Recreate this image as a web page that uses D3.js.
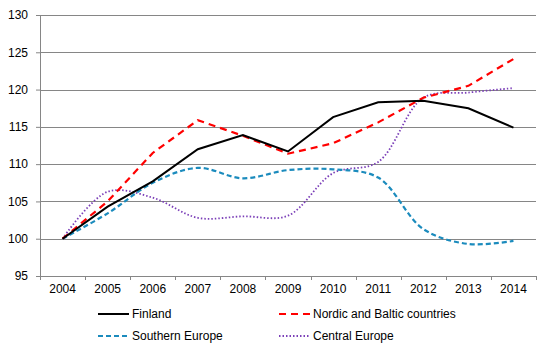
<!DOCTYPE html>
<html>
<head>
<meta charset="utf-8">
<script src="https://cdn.jsdelivr.net/npm/d3@7"></script>
<style>
  body { margin: 0; background: #fff; }
  text { font-family: "Liberation Sans", Arial, sans-serif; font-size: 12px; fill: #000; }
</style>
</head>
<body>
<script>
// data
const years = ["2004","2005","2006","2007","2008","2009","2010","2011","2012","2013","2014"];
const finland  = [100, 104.3, 107.7, 112.0, 113.9, 111.7, 116.3, 118.3, 118.5, 117.5, 114.9];
const nordic   = [100, 105.0, 111.5, 115.9, 113.8, 111.4, 112.8, 115.6, 118.9, 120.5, 124.1];
const southern = [100, 103.4, 107.5, 109.5, 108.1, 109.2, 109.3, 108.2, 101.3, 99.3, 99.7];
const central  = [100, 106.3, 105.5, 102.8, 103.0, 103.1, 108.8, 110.3, 118.9, 119.6, 120.2];
const yTicks = [95, 100, 105, 110, 115, 120, 125, 130];

const width = 550, height = 352;
const margin = { top: 15, right: 14, bottom: 76, left: 40 };
const w = width - margin.left - margin.right;
const h = height - margin.top - margin.bottom;

const svg = d3.select("body").append("svg")
  .attr("width", width)
  .attr("height", height);
const g = svg.append("g")
  .attr("transform", `translate(${margin.left}, ${margin.top})`);

const x = d3.scaleBand().domain(years).range([0, w]);
const y = d3.scaleLinear().domain([95, 130]).range([h, 0]);

// gridlines
g.selectAll(".grid")
  .data(yTicks.filter(t => t > 95))
  .enter().append("line")
  .attr("x1", 0).attr("x2", w)
  .attr("y1", d => Math.round(y(d)) + 0.5)
  .attr("y2", d => Math.round(y(d)) + 0.5)
  .attr("stroke", "#868686");

// y axis
const yAxis = g.append("g")
  .call(d3.axisLeft(y).tickValues(yTicks).tickSize(4).tickPadding(8));
yAxis.select(".domain").attr("stroke", "#868686");
yAxis.selectAll(".tick line").attr("stroke", "#868686");
yAxis.selectAll("text").style("font-size", "12px");

// x axis with ticks on band edges
const xAxis = g.append("g")
  .attr("transform", `translate(0, ${h})`)
  .call(d3.axisBottom(x).tickSize(0).tickPadding(8));
xAxis.select(".domain").attr("stroke", "#868686");
xAxis.selectAll("text").style("font-size", "12px");
g.selectAll(".xtick")
  .data(d3.range(years.length + 1))
  .enter().append("line")
  .attr("x1", i => Math.round(i * x.step()) + 0.5)
  .attr("x2", i => Math.round(i * x.step()) + 0.5)
  .attr("y1", h).attr("y2", h + 4)
  .attr("stroke", "#868686");

const series = [
  { name: "Finland", values: finland, color: "#000000", width: 2, dash: null, curve: d3.curveLinear },
  { name: "Nordic and Baltic countries", values: nordic, color: "#ff0000", width: 2.2, dash: "7,5", curve: d3.curveLinear },
  { name: "Southern Europe", values: southern, color: "#1b8bbd", width: 2.2, dash: "5,3", curve: d3.curveCatmullRom.alpha(0.5) },
  { name: "Central Europe", values: central, color: "#7b3fb8", width: 1.8, dash: "1.5,2", curve: d3.curveCatmullRom.alpha(0.5) }
];

// draw order: back to front
const order = [3, 2, 1, 0];
order.forEach(i => {
  const s = series[i];
  const line = d3.line()
    .x((d, j) => x(years[j]) + x.bandwidth() / 2)
    .y(d => y(d))
    .curve(s.curve);
  g.append("path")
    .datum(s.values)
    .attr("d", line)
    .attr("fill", "none")
    .attr("stroke", s.color)
    .attr("stroke-width", s.width)
    .attr("stroke-dasharray", s.dash);
});

// legend
const legendPos = [[98, 314], [279, 314], [98, 336], [279, 336]];
const legend = svg.append("g");
series.forEach((s, k) => {
  const [lx, ly] = legendPos[k];
  legend.append("line")
    .attr("x1", lx).attr("x2", lx + 31)
    .attr("y1", ly).attr("y2", ly)
    .attr("stroke", s.color)
    .attr("stroke-width", s.width)
    .attr("stroke-dasharray", s.dash);
  legend.append("text")
    .attr("x", lx + 34)
    .attr("y", ly + 4)
    .text(s.name);
});
</script>
</body>
</html>
